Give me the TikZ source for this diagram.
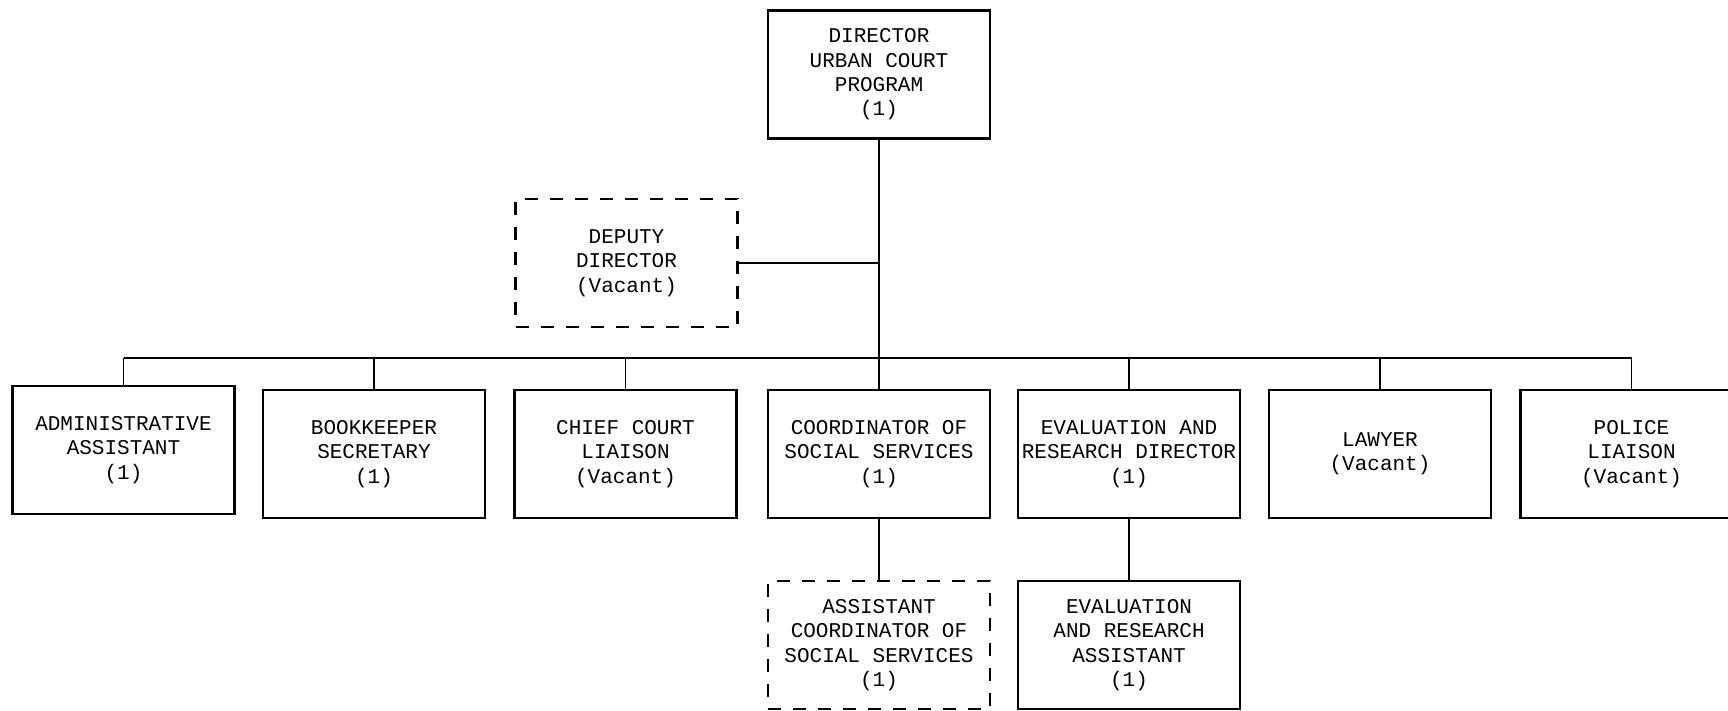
\documentclass[tikz,border=0pt]{standalone}
\usepackage{fontspec}
\setmonofont{Liberation Mono}
\usepackage{tikz}

\begin{document}
\begin{tikzpicture}[x=0.5pt, y=-0.5pt,
  post/.style={draw, line width=1.1pt, minimum width=111pt, minimum height=64pt,
    inner sep=1pt, align=center, font=\ttfamily\fontsize{10.5}{12.2}\selectfont},
  vacant/.style={post, dash pattern=on 6.5pt off 6pt},
  link/.style={line width=0.9pt}]

\useasboundingbox (0,0) rectangle (1728,711);
\clip (0,0) rectangle (1728,711);

% ---- director and deputy ---------------------------------------------------
\node[post]   (dir) at (879,74.5) {DIRECTOR\\URBAN COURT\\PROGRAM\\(1)};
\node[vacant] (dep) at (626.5,263) {DEPUTY\\DIRECTOR\\(Vacant)};

% ---- staff row -------------------------------------------------------------
\node[post] (adm)   at (123.5,450) {ADMINISTRATIVE\\ASSISTANT\\(1)};
\node[post] (book)  at (374,454)   {BOOKKEEPER\\SECRETARY\\(1)};
\node[post] (chief) at (625.5,454) {CHIEF COURT\\LIAISON\\(Vacant)};
\node[post] (coord) at (879,454)   {COORDINATOR OF\\SOCIAL SERVICES\\(1)};
\node[post] (eval)  at (1129,454)  {EVALUATION AND\\RESEARCH DIRECTOR\\(1)};
\node[post] (law)   at (1380,454)  {LAWYER\\(Vacant)};
\node[post] (pol)   at (1631.5,454) {POLICE\\LIAISON\\(Vacant)};

% ---- assistants --------------------------------------------------------------
\node[vacant] (asst) at (879,645)  {ASSISTANT\\COORDINATOR OF\\SOCIAL SERVICES\\(1)};
\node[post]   (era)  at (1129,645) {EVALUATION\\AND RESEARCH\\ASSISTANT\\(1)};

% ---- lines of report -------------------------------------------------------
\coordinate (bus) at (879,358);
\draw[link] (dir.south) -- (coord.north);
\draw[link] (dep.east) -- (dep.east -| dir.south);
\draw[link] (bus -| adm.north) -- (bus -| pol.north);
\foreach \n in {adm,book,chief,eval,law,pol}
  \draw[link] (\n.north) -- (bus -| \n.north);
\draw[link] (coord.south) -- (asst.north);
\draw[link] (eval.south) -- (era.north);

\end{tikzpicture}
\end{document}
